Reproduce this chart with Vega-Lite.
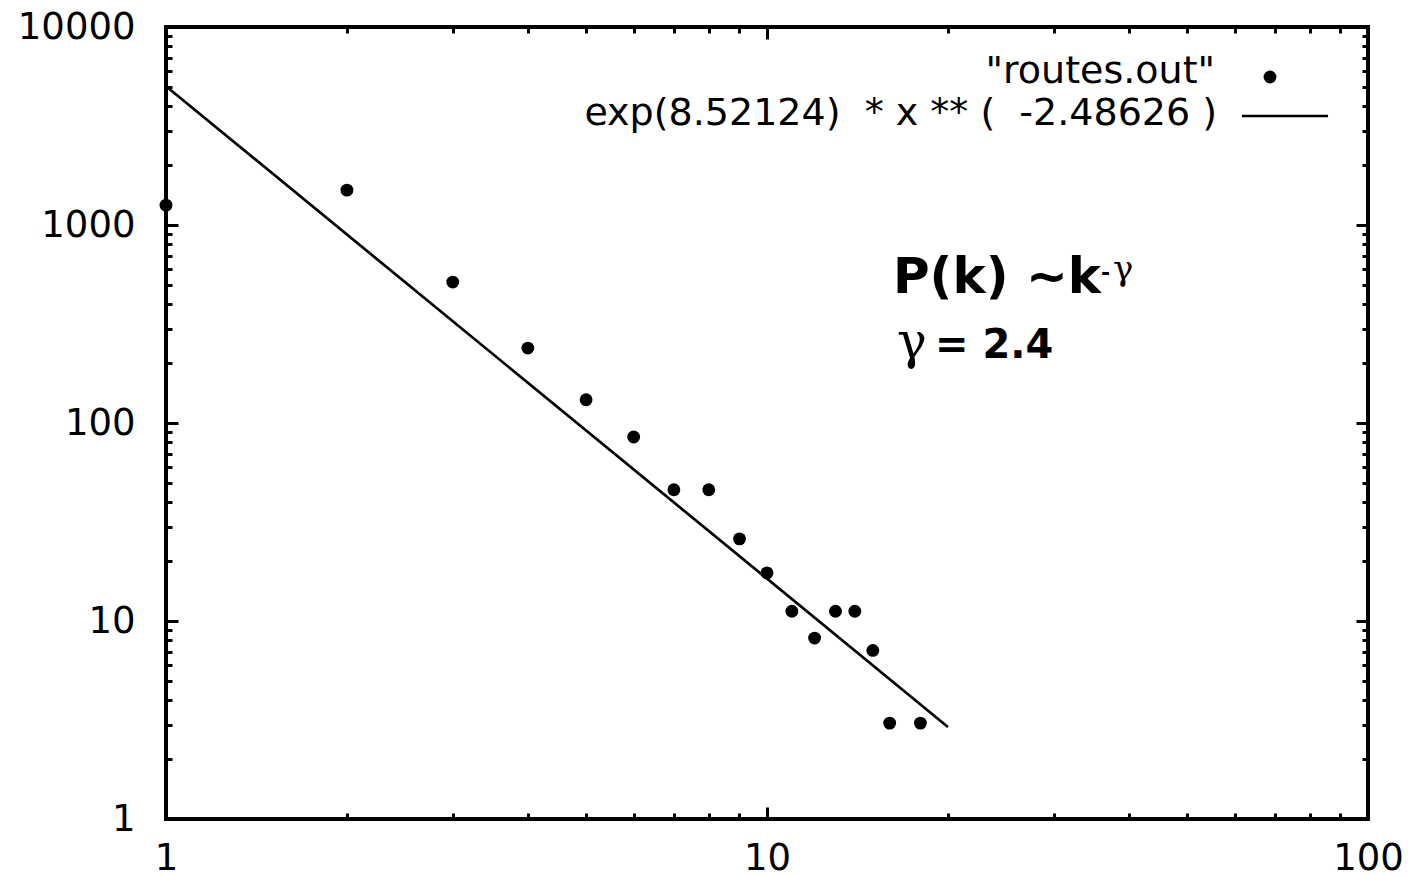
{
  "$schema": "https://vega.github.io/schema/vega-lite/v6.json",
  "width": 1202,
  "height": 792,
  "autosize": "none",
  "padding": {"left": 166, "top": 27, "right": 43, "bottom": 56},
  "background": "white",
  "config": {
    "view": {"stroke": "black", "strokeWidth": 4},
    "axis": {
      "grid": false,
      "domain": false,
      "tickColor": "black",
      "tickWidth": 3,
      "labelFont": "DejaVu Sans",
      "labelFontSize": 37,
      "labelColor": "black",
      "labelOverlap": false,
      "labelBound": false,
      "labelFlush": false
    },
    "text": {"font": "DejaVu Sans", "color": "black", "baseline": "alphabetic"}
  },
  "datasets": {
    "routes": [
      {"k": 1, "p": 1260},
      {"k": 2, "p": 1500},
      {"k": 3, "p": 515},
      {"k": 4, "p": 239},
      {"k": 5, "p": 131},
      {"k": 6, "p": 85},
      {"k": 7, "p": 46},
      {"k": 8, "p": 46},
      {"k": 9, "p": 26},
      {"k": 10, "p": 17.5},
      {"k": 11, "p": 11.2},
      {"k": 12, "p": 8.2},
      {"k": 13, "p": 11.2},
      {"k": 14, "p": 11.2},
      {"k": 15, "p": 7.1},
      {"k": 16, "p": 3.05},
      {"k": 18, "p": 3.05}
    ],
    "fit": [
      {"k": 1, "p": 5020},
      {"k": 20, "p": 2.917}
    ]
  },
  "resolve": {"axis": {"x": "independent", "y": "independent"}},
  "layer": [
    {
      "data": {"name": "routes"},
      "mark": {"type": "point", "shape": "circle", "filled": true, "size": 165, "color": "black", "opacity": 1},
      "encoding": {
        "x": {
          "field": "k", "type": "quantitative",
          "scale": {"type": "log", "domain": [1, 100], "nice": false},
          "axis": {
            "orient": "bottom", "title": null,
            "values": [1, 2, 3, 4, 5, 6, 7, 8, 9, 10, 20, 30, 40, 50, 60, 70, 80, 90, 100],
            "tickSize": {"condition": {"test": "abs(log(datum.value)/LN10 - round(log(datum.value)/LN10)) < 0.000001", "value": -12}, "value": -6},
            "labelExpr": "abs(log(datum.value)/LN10 - round(log(datum.value)/LN10)) < 0.000001 ? format(datum.value, 'd') : ''",
            "labelPadding": 33
          }
        },
        "y": {
          "field": "p", "type": "quantitative",
          "scale": {"type": "log", "domain": [1, 10000], "nice": false},
          "axis": {
            "orient": "left", "title": null,
            "values": [1, 2, 3, 4, 5, 6, 7, 8, 9, 10, 20, 30, 40, 50, 60, 70, 80, 90, 100, 200, 300, 400, 500, 600, 700, 800, 900, 1000, 2000, 3000, 4000, 5000, 6000, 7000, 8000, 9000, 10000],
            "tickSize": {"condition": {"test": "abs(log(datum.value)/LN10 - round(log(datum.value)/LN10)) < 0.000001", "value": -12}, "value": -6},
            "labelExpr": "abs(log(datum.value)/LN10 - round(log(datum.value)/LN10)) < 0.000001 ? format(datum.value, 'd') : ''",
            "labelPadding": 43
          }
        }
      }
    },
    {
      "data": {"name": "fit"},
      "mark": {"type": "line", "color": "black", "strokeWidth": 2.7},
      "encoding": {
        "x": {
          "field": "k", "type": "quantitative",
          "axis": {
            "orient": "top", "title": null, "labels": false,
            "values": [1, 2, 3, 4, 5, 6, 7, 8, 9, 10, 20, 30, 40, 50, 60, 70, 80, 90, 100],
            "tickSize": {"condition": {"test": "abs(log(datum.value)/LN10 - round(log(datum.value)/LN10)) < 0.000001", "value": -12}, "value": -6}
          }
        },
        "y": {
          "field": "p", "type": "quantitative",
          "axis": {
            "orient": "right", "title": null, "labels": false,
            "values": [1, 2, 3, 4, 5, 6, 7, 8, 9, 10, 20, 30, 40, 50, 60, 70, 80, 90, 100, 200, 300, 400, 500, 600, 700, 800, 900, 1000, 2000, 3000, 4000, 5000, 6000, 7000, 8000, 9000, 10000],
            "tickSize": {"condition": {"test": "abs(log(datum.value)/LN10 - round(log(datum.value)/LN10)) < 0.000001", "value": -12}, "value": -6}
          }
        }
      }
    },
    {
      "data": {"values": [{"t": "\"routes.out\""}]},
      "mark": {"type": "text", "align": "right", "fontSize": 38},
      "encoding": {
        "text": {"field": "t"},
        "x": {"datum": 55.65, "axis": null},
        "y": {"datum": 5214, "axis": null}
      }
    },
    {
      "data": {"values": [{"t": "exp(8.52124)\u00a0\u00a0* x ** (\u00a0\u00a0-2.48626 )"}]},
      "mark": {"type": "text", "align": "right", "fontSize": 38},
      "encoding": {
        "text": {"field": "t"},
        "x": {"datum": 56.1, "axis": null},
        "y": {"datum": 3199, "axis": null}
      }
    },
    {
      "data": {"values": [{"series": "routes.out"}]},
      "mark": {"type": "point", "shape": "circle", "filled": true, "size": 165, "color": "black", "opacity": 1},
      "encoding": {
        "x": {"datum": 68.7, "axis": null},
        "y": {"datum": 5591, "axis": null}
      }
    },
    {
      "data": {"values": [{"series": "fit"}]},
      "mark": {"type": "rule", "color": "black", "strokeWidth": 2.7},
      "encoding": {
        "x": {"datum": 61.7, "axis": null},
        "x2": {"datum": 85.8},
        "y": {"datum": 3552, "axis": null}
      }
    },
    {
      "data": {"values": [{"t": "P(k) ~k"}]},
      "mark": {"type": "text", "align": "left", "fontSize": 50, "fontWeight": "bold"},
      "encoding": {
        "text": {"field": "t"},
        "x": {"datum": 16.2, "axis": null},
        "y": {"datum": 453.6, "axis": null}
      }
    },
    {
      "data": {"values": [{"t": "-"}]},
      "mark": {"type": "text", "align": "left", "fontSize": 22, "fontWeight": "bold"},
      "encoding": {
        "text": {"field": "t"},
        "x": {"datum": 35.96, "axis": null},
        "y": {"datum": 527.6, "axis": null}
      }
    },
    {
      "data": {"values": [{"t": "γ"}]},
      "mark": {"type": "text", "align": "left", "fontSize": 34, "font": "DejaVu Serif"},
      "encoding": {
        "text": {"field": "t"},
        "x": {"datum": 37.65, "axis": null},
        "y": {"datum": 527, "axis": null}
      }
    },
    {
      "data": {"values": [{"t": "γ"}]},
      "mark": {"type": "text", "align": "left", "fontSize": 50, "font": "DejaVu Serif"},
      "encoding": {
        "text": {"field": "t"},
        "x": {"datum": 16.45, "axis": null},
        "y": {"datum": 213, "axis": null}
      }
    },
    {
      "data": {"values": [{"t": "= 2.4"}]},
      "mark": {"type": "text", "align": "left", "fontSize": 40, "fontWeight": "bold"},
      "encoding": {
        "text": {"field": "t"},
        "x": {"datum": 19.03, "axis": null},
        "y": {"datum": 213, "axis": null}
      }
    }
  ]
}
